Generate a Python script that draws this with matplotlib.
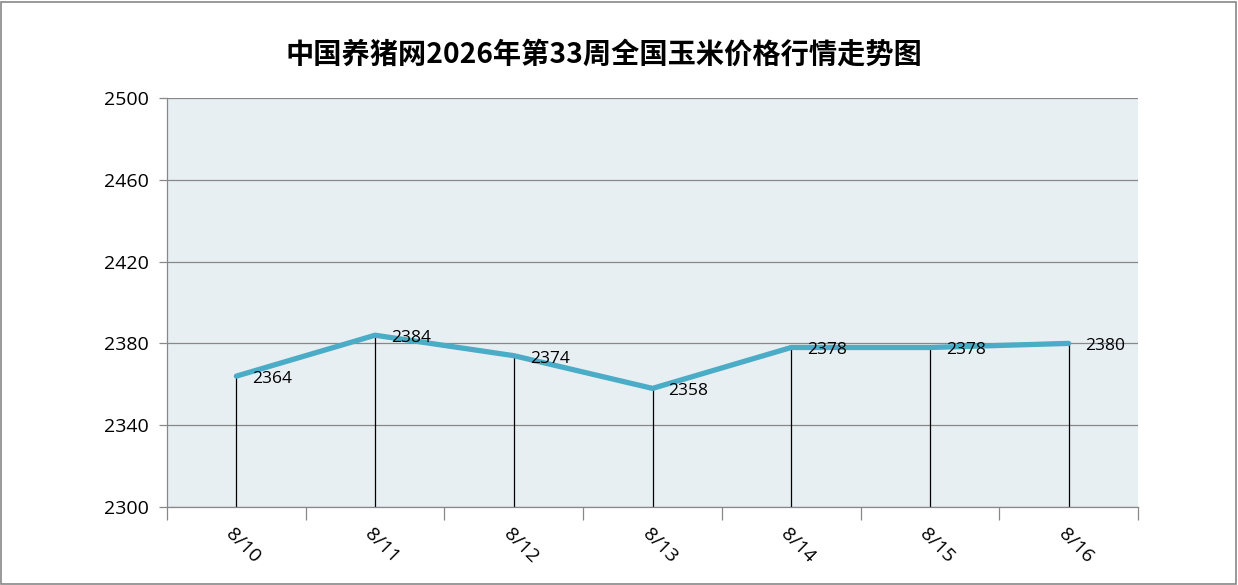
import numpy as np
import matplotlib
matplotlib.use("Agg")
from matplotlib import pyplot as plt

# donnees
dates = ["8/10", "8/11", "8/12", "8/13", "8/14", "8/15", "8/16"]
prix = [2364, 2384, 2374, 2358, 2378, 2378, 2380]
titre = "中国养猪网2026年第33周全国玉米价格行情走势图"

plt.rcParams['font.family'] = ['Open Sans', 'Noto Sans CJK SC', 'DejaVu Sans']

fig = plt.figure(figsize=(12.38, 5.85), dpi=100)
ax = fig.add_axes([167/1238, 1-507/585, (1138-167)/1238, (507-98)/585])
ax.set_facecolor("#E8EFF3")

x = np.arange(len(dates))
ax.plot(x, prix, color="#4AACC6", lw=3.8, solid_capstyle="round", zorder=3)
ax.vlines(x, 2300, prix, color="black", lw=0.9, zorder=2)

for xi, v in zip(x, prix):
    ax.annotate(str(v), (xi, v), xytext=(16, -3), textcoords="offset pixels",
                ha="left", va="center", fontsize=12.5, zorder=4)

ax.set_xlim(-0.5, len(dates)-0.5)
ax.set_ylim(2300, 2500)
ax.set_yticks(np.arange(2300, 2501, 40))
ax.set_xticks(np.arange(-0.5, len(dates), 1))
ax.set_xticklabels([])
ax.grid(axis="y", color="#888888", lw=0.9, zorder=1)
ax.tick_params(axis="x", length=9, color="#888888", width=0.9)
ax.tick_params(axis="y", length=6, color="#888888", width=0.9, labelsize=14, pad=7)
for s in ["top", "right"]:
    ax.spines[s].set_visible(False)
for s in ["left", "bottom"]:
    ax.spines[s].set_color("#888888")
    ax.spines[s].set_linewidth(0.9)

for xi, d in zip(x, dates):
    ax.annotate(d, (xi, 0), xycoords=ax.get_xaxis_transform(), xytext=(7, -39),
                textcoords="offset pixels", ha="center", va="center",
                rotation=-45, rotation_mode="anchor", fontsize=14)

fig.text(604/1238, 1-55/585, titre, ha="center", va="center", fontsize=20.3,
         fontweight="bold", family=['Noto Sans CJK SC', 'DejaVu Sans'])

# cadre autour de la figure
fig.patches.append(plt.Rectangle((0.001, 0.002), 0.997, 0.995, transform=fig.transFigure,
                                 fill=False, edgecolor="#888888", lw=1.2))

fig.savefig("out.png", dpi=100)
